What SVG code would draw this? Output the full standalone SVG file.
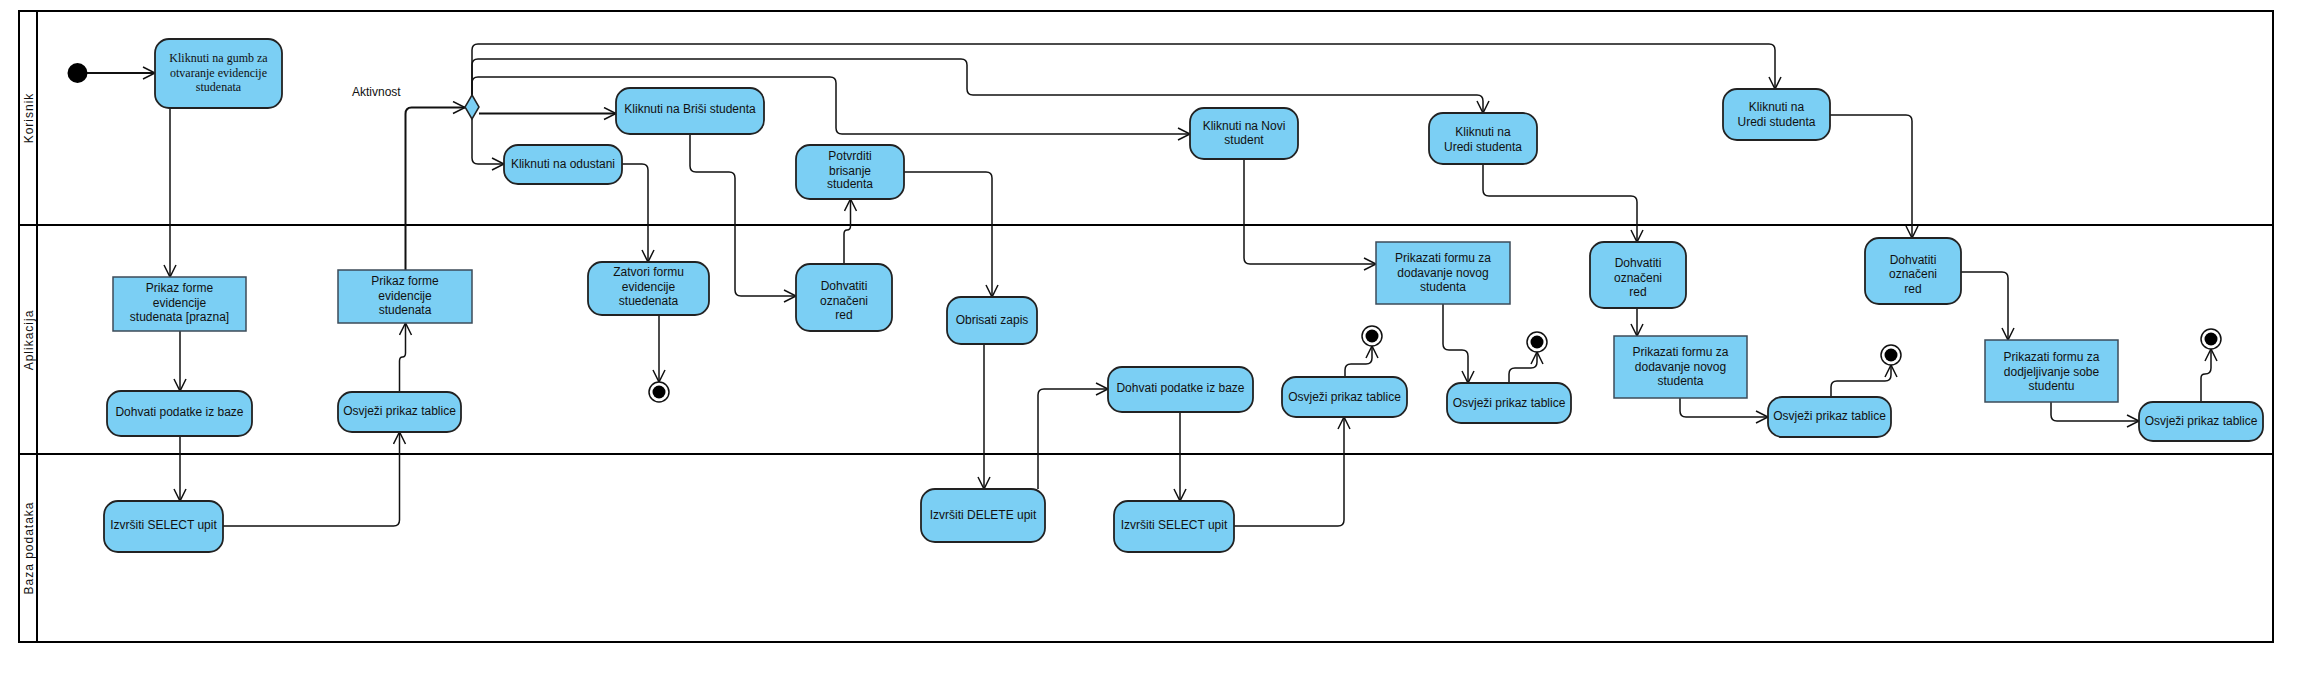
<svg xmlns="http://www.w3.org/2000/svg" width="2299" height="689" viewBox="0 0 2299 689">
<style>
.lane{fill:none;stroke:#000;stroke-width:2}
.act{fill:#7bcff4;stroke:#222;stroke-width:1.8}
.box{fill:#7bcff4;stroke:#3c4b58;stroke-width:1.5}
.t{font-family:"Liberation Sans",Arial,sans-serif;font-size:12px;fill:#111;text-anchor:middle}
.ts{font-family:"Liberation Serif","Times New Roman",serif;font-size:12px;fill:#111;text-anchor:middle}
.lbl{font-family:"Liberation Sans",Arial,sans-serif;font-size:12px;fill:#111;text-anchor:middle;letter-spacing:1px}
.c{fill:none;stroke:#111;stroke-width:1.5;marker-end:url(#arr)}
.fin{fill:#fff;stroke:#111;stroke-width:1.5}
</style>
<defs>
<marker id="arr" markerUnits="userSpaceOnUse" markerWidth="16" markerHeight="16" refX="13" refY="7" orient="auto">
<path d="M1,1 L13,7 L1,13" fill="none" stroke="#111" stroke-width="1.5"/>
</marker>
</defs>
<rect width="2299" height="689" fill="#fff"/>
<g id="lanes">
<rect class="lane" x="19" y="11" width="2254" height="631"/>
<line class="lane" x1="37" y1="11" x2="37" y2="642"/>
<line class="lane" x1="19" y1="225" x2="2273" y2="225"/>
<line class="lane" x1="19" y1="454" x2="2273" y2="454"/>
<text class="lbl" transform="translate(33,118) rotate(-90)">Korisnik</text>
<text class="lbl" transform="translate(33,340) rotate(-90)">Aplikacija</text>
<text class="lbl" transform="translate(33,548) rotate(-90)">Baza podataka</text>
</g>
<g id="connectors">
<path class="c" style="stroke-width:2" d="M87,73 H155"/>
<path class="c" d="M170,108 V277"/>
<path class="c" d="M180,331 V391"/>
<path class="c" d="M180,436 V501"/>
<path class="c" d="M223,526 H393.5 Q399.5,526 399.5,520 V432"/>
<path class="c" d="M399.5,392 V361 Q399.5,357 402.5,357 Q405.5,357 405.5,353 V323"/>
<path class="c" style="stroke-width:2" d="M405.5,270 V114 Q405.5,107.5 411.5,107.5 H465"/>
<path class="c" style="stroke-width:2" d="M479,113.5 H616"/>
<path class="c" d="M472,119 V158 Q472,164 478,164 H504"/>
<path class="c" d="M622,164 H642 Q648,164 648,170 V262"/>
<path class="c" d="M659,315 V382"/>
<path class="c" d="M690,134 V166 Q690,172 696,172 H729 Q735,172 735,178 V290 Q735,296 741,296 H796"/>
<path class="c" d="M844,264 V234 Q844,230 847,230 Q850.5,230 850.5,226 V199"/>
<path class="c" d="M904,172 H986 Q992,172 992,178 V297"/>
<path class="c" d="M984,344 V489"/>
<path class="c" d="M1038,489 V395 Q1038,389 1044,389 H1108"/>
<path class="c" d="M1180,412 V501"/>
<path class="c" d="M1234,526 H1338 Q1344,526 1344,520 V417"/>
<path class="c" d="M1345,377 V370 Q1345,364 1351,364 H1366 Q1372,364 1372,358 V346"/>
<path class="c" d="M472,95 V50 Q472,44 478,44 H1769 Q1775,44 1775,50 V89"/>
<path class="c" d="M472,95 V65 Q472,59 478,59 H961 Q967,59 967,65 V89 Q967,95 973,95 H1477 Q1483,95 1483,101 V113"/>
<path class="c" d="M472,95 V83 Q472,77 478,77 H830 Q836,77 836,83 V128 Q836,134 842,134 H1190"/>
<path class="c" d="M1244,159 V258 Q1244,264 1250,264 H1376"/>
<path class="c" d="M1443,304 V344 Q1443,350 1449,350 H1462 Q1468,350 1468,356 V383"/>
<path class="c" d="M1509,383 V374 Q1509,368 1515,368 H1531 Q1537,368 1537,362 V352"/>
<path class="c" d="M1483,164 V190 Q1483,196 1489,196 H1631 Q1637,196 1637,202 V242"/>
<path class="c" d="M1637,308 V336"/>
<path class="c" d="M1680,398 V411 Q1680,417 1686,417 H1768"/>
<path class="c" d="M1831,397 V387 Q1831,381 1837,381 H1885 Q1891,381 1891,375 V365"/>
<path class="c" d="M1830,115 H1906 Q1912,115 1912,121 V238"/>
<path class="c" d="M1961,272 H2002 Q2008,272 2008,278 V340"/>
<path class="c" d="M2051,402 V415 Q2051,421 2057,421 H2139"/>
<path class="c" d="M2201,402 V378 Q2201,374 2205,374 Q2211,374 2211,368 V349"/>
</g>
<g id="start"><circle cx="77.5" cy="73" r="10" fill="#000"/></g>
<g id="n-gumb"><rect class="act" x="155" y="39" width="127" height="69" rx="14"/><text class="ts" x="218.5" y="62">Kliknuti na gumb za</text><text class="ts" x="218.5" y="77">otvaranje evidencije</text><text class="ts" x="218.5" y="91">studenata</text></g>
<g id="n-prikaz1"><rect class="box" x="113" y="277" width="133" height="54"/><text class="t" x="179.5" y="292">Prikaz forme</text><text class="t" x="179.5" y="307">evidencije</text><text class="t" x="179.5" y="321">studenata [prazna]</text></g>
<g id="n-dohvati1"><rect class="act" x="107" y="391" width="145" height="45" rx="14"/><text class="t" x="179.5" y="416">Dohvati podatke iz baze</text></g>
<g id="n-select1"><rect class="act" x="104" y="501" width="119" height="51" rx="14"/><text class="t" x="163.5" y="529">Izvršiti SELECT upit</text></g>
<g id="n-osvjezi1"><rect class="act" x="338" y="392" width="123" height="40" rx="14"/><text class="t" x="399.5" y="415">Osvježi prikaz tablice</text></g>
<g id="n-prikaz2"><rect class="box" x="338" y="270" width="134" height="53"/><text class="t" x="405" y="285">Prikaz forme</text><text class="t" x="405" y="300">evidencije</text><text class="t" x="405" y="314">studenata</text></g>
<g id="n-decision"><path class="act" style="stroke-width:1.5" d="M472,95 L479,107 L472,119 L465,107 Z"/></g>
<g id="n-aktivnost"><text class="t" style="text-anchor:start" x="352" y="96">Aktivnost</text></g>
<g id="n-brisi"><rect class="act" x="616" y="88" width="148" height="46" rx="14"/><text class="t" x="690" y="113">Kliknuti na Briši studenta</text></g>
<g id="n-odustani"><rect class="act" x="504" y="145" width="118" height="39" rx="14"/><text class="t" x="563" y="168">Kliknuti na odustani</text></g>
<g id="n-zatvori"><rect class="act" x="588" y="262" width="121" height="53" rx="14"/><text class="t" x="648.5" y="276">Zatvori formu</text><text class="t" x="648.5" y="291">evidencije</text><text class="t" x="648.5" y="305">stuedenata</text></g>
<g id="f1"><circle class="fin" cx="659" cy="392" r="10"/><circle cx="659" cy="392" r="6.5" fill="#000"/></g>
<g id="n-potvrditi"><rect class="act" x="796" y="145" width="108" height="54" rx="14"/><text class="t" x="850" y="160">Potvrditi</text><text class="t" x="850" y="175">brisanje</text><text class="t" x="850" y="188">studenta</text></g>
<g id="n-oznaceni1"><rect class="act" x="796" y="264" width="96" height="67" rx="14"/><text class="t" x="844" y="290">Dohvatiti</text><text class="t" x="844" y="305">označeni</text><text class="t" x="844" y="319">red</text></g>
<g id="n-obrisati"><rect class="act" x="947" y="297" width="90" height="47" rx="14"/><text class="t" x="992" y="324">Obrisati zapis</text></g>
<g id="n-delete"><rect class="act" x="921" y="489" width="124" height="53" rx="14"/><text class="t" x="983" y="519">Izvršiti DELETE upit</text></g>
<g id="n-dohvati2"><rect class="act" x="1108" y="367" width="145" height="45" rx="14"/><text class="t" x="1180.5" y="392">Dohvati podatke iz baze</text></g>
<g id="n-select2"><rect class="act" x="1114" y="501" width="120" height="51" rx="14"/><text class="t" x="1174" y="529">Izvršiti SELECT upit</text></g>
<g id="n-osvjezi2"><rect class="act" x="1282" y="377" width="125" height="40" rx="14"/><text class="t" x="1344.5" y="401">Osvježi prikaz tablice</text></g>
<g id="f2"><circle class="fin" cx="1372" cy="336" r="10"/><circle cx="1372" cy="336" r="6.5" fill="#000"/></g>
<g id="n-novi"><rect class="act" x="1190" y="108" width="108" height="51" rx="14"/><text class="t" x="1244" y="130">Kliknuti na Novi</text><text class="t" x="1244" y="144">student</text></g>
<g id="n-prikazati1"><rect class="box" x="1376" y="242" width="134" height="62"/><text class="t" x="1443" y="262">Prikazati formu za</text><text class="t" x="1443" y="277">dodavanje novog</text><text class="t" x="1443" y="291">studenta</text></g>
<g id="n-osvjezi3"><rect class="act" x="1447" y="383" width="124" height="40" rx="14"/><text class="t" x="1509" y="407">Osvježi prikaz tablice</text></g>
<g id="f3"><circle class="fin" cx="1537" cy="342" r="10"/><circle cx="1537" cy="342" r="6.5" fill="#000"/></g>
<g id="n-uredi1"><rect class="act" x="1429" y="113" width="108" height="51" rx="14"/><text class="t" x="1483" y="136">Kliknuti na</text><text class="t" x="1483" y="151">Uredi studenta</text></g>
<g id="n-oznaceni2"><rect class="act" x="1590" y="242" width="96" height="66" rx="14"/><text class="t" x="1638" y="267">Dohvatiti</text><text class="t" x="1638" y="282">označeni</text><text class="t" x="1638" y="296">red</text></g>
<g id="n-prikazati2"><rect class="box" x="1614" y="336" width="133" height="62"/><text class="t" x="1680.5" y="356">Prikazati formu za</text><text class="t" x="1680.5" y="371">dodavanje novog</text><text class="t" x="1680.5" y="385">studenta</text></g>
<g id="n-osvjezi4"><rect class="act" x="1768" y="397" width="123" height="40" rx="14"/><text class="t" x="1829.5" y="420">Osvježi prikaz tablice</text></g>
<g id="f4"><circle class="fin" cx="1891" cy="355" r="10"/><circle cx="1891" cy="355" r="6.5" fill="#000"/></g>
<g id="n-uredi2"><rect class="act" x="1723" y="89" width="107" height="51" rx="14"/><text class="t" x="1776.5" y="111">Kliknuti na</text><text class="t" x="1776.5" y="126">Uredi studenta</text></g>
<g id="n-oznaceni3"><rect class="act" x="1865" y="238" width="96" height="66" rx="14"/><text class="t" x="1913" y="264">Dohvatiti</text><text class="t" x="1913" y="278">označeni</text><text class="t" x="1913" y="293">red</text></g>
<g id="n-prikazati3"><rect class="box" x="1985" y="340" width="133" height="62"/><text class="t" x="2051.5" y="361">Prikazati formu za</text><text class="t" x="2051.5" y="376">dodjeljivanje sobe</text><text class="t" x="2051.5" y="390">studentu</text></g>
<g id="n-osvjezi5"><rect class="act" x="2139" y="402" width="124" height="39" rx="14"/><text class="t" x="2201" y="425">Osvježi prikaz tablice</text></g>
<g id="f5"><circle class="fin" cx="2211" cy="339" r="10"/><circle cx="2211" cy="339" r="6.5" fill="#000"/></g>
</svg>
